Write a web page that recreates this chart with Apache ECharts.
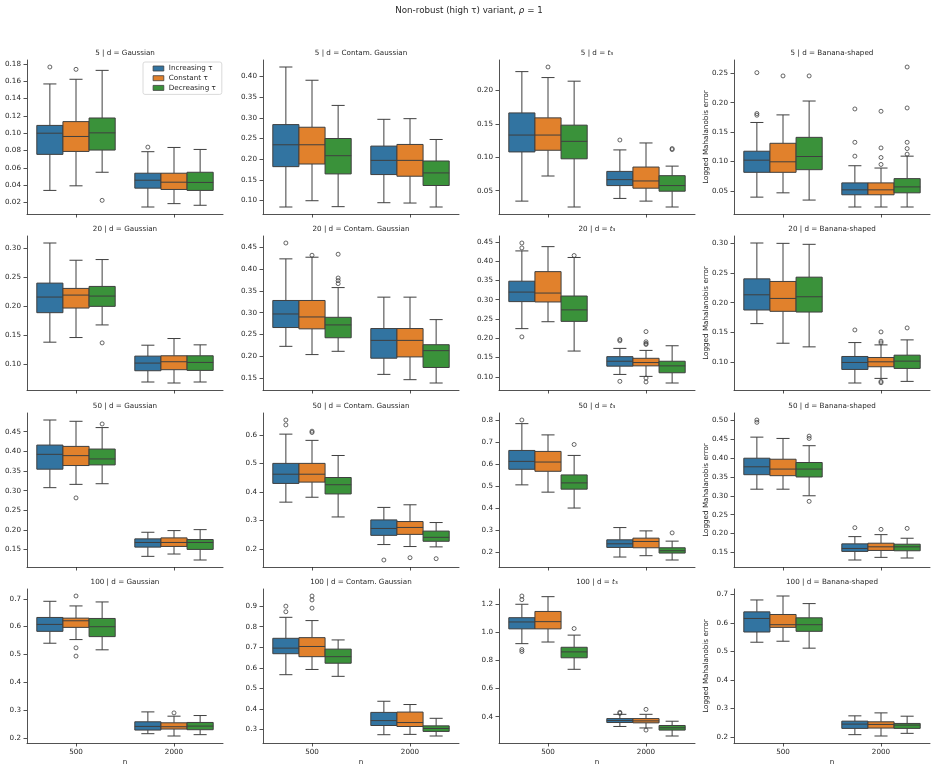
<!DOCTYPE html>
<html>
<head>
<meta charset="utf-8">
<script src="https://cdn.jsdelivr.net/npm/echarts@6/dist/echarts.min.js"></script>
<style>
  html, body { margin: 0; padding: 0; background: #fff; }
  #chart { width: 938px; height: 773px; }
</style>
</head>
<body>
<div id="chart"></div>
<script>
const dims = ['5', '20', '50', '100'];
const dists = ['Gaussian', 'Contam. Gaussian', 't3', 'Banana-shaped'];
const nValues = ['500', '2000'];
const hues = ['Increasing τ', 'Constant τ', 'Decreasing τ'];

// boxes: per hue -> [n=500, n=2000], each [low whisker, Q1, median, Q3, high whisker]
// outliers: per hue -> [n=500 list, n=2000 list]
const box5Gauss = [
  [[0.0338, 0.0755, 0.100, 0.109, 0.157], [0.0146, 0.0364, 0.0456, 0.0537, 0.0786]],
  [[0.0391, 0.0789, 0.0962, 0.1134, 0.1624], [0.0185, 0.0349, 0.0433, 0.0537, 0.0835]],
  [[0.0548, 0.0805, 0.1004, 0.1176, 0.1727], [0.0166, 0.0338, 0.043, 0.0548, 0.0812]]
];
const out5Gauss = [[[0.1766], [0.0839]], [[0.1739], []], [[0.0223], []]];
const ticks5Gauss = ['0.02', '0.04', '0.06', '0.08', '0.10', '0.12', '0.14', '0.16', '0.18'];

const box5Contam = [
  [[0.084, 0.1818, 0.2348, 0.2837, 0.4233], [0.0944, 0.1626, 0.197, 0.2316, 0.2965]],
  [[0.0992, 0.1882, 0.2348, 0.2773, 0.3912], [0.0936, 0.1586, 0.197, 0.2356, 0.2981]],
  [[0.0848, 0.1642, 0.2083, 0.25, 0.3302], [0.084, 0.1361, 0.1666, 0.1955, 0.2476]]
];
const out5Contam = [[[], []], [[], []], [[], []]];
const ticks5Contam = ['0.10', '0.15', '0.20', '0.25', '0.30', '0.35', '0.40'];

const box5T3 = [
  [[0.0345, 0.108, 0.1332, 0.1663, 0.228], [0.0385, 0.0577, 0.0666, 0.0789, 0.111]],
  [[0.072, 0.1105, 0.1332, 0.1589, 0.2191], [0.0345, 0.0538, 0.0646, 0.0854, 0.1214]],
  [[0.0257, 0.0977, 0.1238, 0.148, 0.2137], [0.0257, 0.0493, 0.0577, 0.0725, 0.0868]]
];
const out5T3 = [[[], [0.1258]], [[0.2349], []], [[], [0.113, 0.1115]]];
const ticks5T3 = ['0.05', '0.10', '0.15', '0.20'];

const box5Banana = [
  [[0.0393, 0.0815, 0.1022, 0.1174, 0.1663], [0.0225, 0.0433, 0.0517, 0.0635, 0.0927]],
  [[0.0466, 0.0815, 0.0994, 0.1309, 0.1792], [0.0225, 0.0433, 0.0517, 0.0635, 0.0888]],
  [[0.0343, 0.086, 0.1084, 0.141, 0.2028], [0.0225, 0.0466, 0.0567, 0.0708, 0.109]]
];
const out5Banana = [
  [[0.2511, 0.1815, 0.1787], [0.1893, 0.1326, 0.109]],
  [[0.2455], [0.1854, 0.123, 0.1067, 0.0949]],
  [[0.2455], [0.2607, 0.191, 0.1326, 0.1219, 0.1124]]
];
const ticks5Banana = ['0.05', '0.10', '0.15', '0.20', '0.25'];

const box20Gauss = [
  [[0.1383, 0.1891, 0.216, 0.24, 0.3091], [0.0697, 0.0891, 0.1023, 0.1143, 0.1331]],
  [[0.1463, 0.1971, 0.2194, 0.2309, 0.2794], [0.068, 0.0909, 0.1046, 0.1149, 0.1446]],
  [[0.168, 0.2, 0.2177, 0.2343, 0.2806], [0.0697, 0.0897, 0.1034, 0.1149, 0.1337]]
];
const out20Gauss = [[[], []], [[], []], [[0.1371], []]];
const ticks20Gauss = ['0.10', '0.15', '0.20', '0.25', '0.30'];

const box20Contam = [
  [[0.223, 0.266, 0.297, 0.3279, 0.4231], [0.1588, 0.1958, 0.2366, 0.2637, 0.3355]],
  [[0.2041, 0.263, 0.2902, 0.3279, 0.4269], [0.1467, 0.1988, 0.2366, 0.2637, 0.3355]],
  [[0.2116, 0.2426, 0.272, 0.2894, 0.3574], [0.1391, 0.1746, 0.2131, 0.2267, 0.2841]]
];
const out20Contam = [[[0.4594], []], [[0.4314], []], [[0.4337, 0.3793, 0.3733, 0.3665], []]];
const ticks20Contam = ['0.15', '0.20', '0.25', '0.30', '0.35', '0.40', '0.45'];

const box20T3 = [
  [[0.2249, 0.2949, 0.3196, 0.3478, 0.4263], [0.1062, 0.1276, 0.1404, 0.1523, 0.1737]],
  [[0.2428, 0.294, 0.3171, 0.3726, 0.4374], [0.1011, 0.1284, 0.137, 0.148, 0.1685]],
  [[0.1668, 0.2437, 0.2735, 0.3094, 0.4093], [0.084, 0.1105, 0.1284, 0.1404, 0.1805]]
];
const out20T3 = [
  [[0.4468, 0.434, 0.2035], [0.1967, 0.1933, 0.0883]],
  [[], [0.2172, 0.1907, 0.1865, 0.1839, 0.0968, 0.0866]],
  [[0.4144], []]
];
const ticks20T3 = ['0.10', '0.15', '0.20', '0.25', '0.30', '0.35', '0.40', '0.45'];

const box20Banana = [
  [[0.165, 0.1878, 0.2133, 0.24, 0.30], [0.0656, 0.0883, 0.10, 0.11, 0.1333]],
  [[0.1322, 0.1856, 0.2072, 0.2356, 0.2994], [0.0733, 0.0928, 0.1011, 0.1083, 0.1294]],
  [[0.1261, 0.1844, 0.21, 0.2428, 0.2978], [0.0683, 0.09, 0.1022, 0.1122, 0.1378]]
];
const out20Banana = [[[], [0.1544]], [[], [0.1511, 0.1356, 0.1328, 0.0683, 0.0661]], [[], [0.1578]]];
const ticks20Banana = ['0.10', '0.15', '0.20', '0.25', '0.30'];

const box50Gauss = [
  [[0.3076, 0.3546, 0.3924, 0.416, 0.4798], [0.1328, 0.1563, 0.1681, 0.1773, 0.1941]],
  [[0.316, 0.3639, 0.3891, 0.4126, 0.4765], [0.1387, 0.158, 0.1681, 0.1798, 0.1983]],
  [[0.3176, 0.3655, 0.3807, 0.4059, 0.4605], [0.1235, 0.1504, 0.1681, 0.1756, 0.2008]]
];
const out50Gauss = [[[], []], [[0.2815], []], [[0.4697], []]];
const ticks50Gauss = ['0.15', '0.20', '0.25', '0.30', '0.35', '0.40', '0.45'];

const box50Contam = [
  [[0.3644, 0.4299, 0.4621, 0.5, 0.6023], [0.2161, 0.2483, 0.2724, 0.3023, 0.346]],
  [[0.3816, 0.4345, 0.4621, 0.5, 0.5805], [0.2092, 0.2517, 0.2759, 0.2966, 0.3552]],
  [[0.3126, 0.3931, 0.4253, 0.4506, 0.5276], [0.208, 0.2276, 0.2414, 0.2632, 0.2931]]
];
const out50Contam = [[[0.6517, 0.6345], [0.1621]], [[0.6126, 0.608], [0.1701]], [[], [0.1667]]];
const ticks50Contam = ['0.2', '0.3', '0.4', '0.5', '0.6'];

const box50T3 = [
  [[0.506, 0.5766, 0.6126, 0.6622, 0.7838], [0.1787, 0.2222, 0.2387, 0.2568, 0.3123]],
  [[0.473, 0.5676, 0.6096, 0.6577, 0.7327], [0.1847, 0.2207, 0.2492, 0.2643, 0.2973]],
  [[0.4009, 0.4865, 0.515, 0.5511, 0.6396], [0.1652, 0.1967, 0.2072, 0.2207, 0.2508]]
];
const out50T3 = [[[0.8003], []], [[], []], [[0.6892], [0.2883]]];
const ticks50T3 = ['0.2', '0.3', '0.4', '0.5', '0.6', '0.7', '0.8'];

const box50Banana = [
  [[0.3176, 0.3561, 0.3771, 0.3999, 0.4559], [0.1295, 0.1523, 0.1601, 0.1724, 0.1916]],
  [[0.3176, 0.3535, 0.371, 0.3972, 0.4524], [0.1365, 0.1549, 0.1645, 0.1741, 0.1969]],
  [[0.3001, 0.35, 0.371, 0.3885, 0.4331], [0.1348, 0.154, 0.1645, 0.1715, 0.1873]]
];
const out50Banana = [[[0.5014, 0.4952], [0.2153]], [[], [0.2109]], [[0.4585, 0.4524, 0.2853], [0.2135]]];
const ticks50Banana = ['0.15', '0.20', '0.25', '0.30', '0.35', '0.40', '0.45', '0.50'];

const box100Gauss = [
  [[0.5401, 0.5829, 0.6078, 0.6328, 0.691], [0.2147, 0.2278, 0.2409, 0.2575, 0.2931]],
  [[0.5532, 0.5971, 0.6209, 0.6304, 0.6743], [0.2064, 0.2314, 0.2397, 0.2539, 0.2777]],
  [[0.5164, 0.5639, 0.5995, 0.6292, 0.6886], [0.2112, 0.229, 0.242, 0.2551, 0.28]]
];
const out100Gauss = [[[], []], [[0.71, 0.5235, 0.4938], [0.2895]], [[], []]];
const ticks100Gauss = ['0.2', '0.3', '0.4', '0.5', '0.6', '0.7'];

const box100Contam = [
  [[0.5665, 0.6686, 0.6957, 0.7435, 0.8456], [0.2746, 0.3193, 0.3432, 0.3831, 0.4373]],
  [[0.592, 0.6542, 0.7037, 0.7467, 0.8297], [0.2762, 0.3145, 0.3337, 0.3847, 0.4214]],
  [[0.5585, 0.6223, 0.6542, 0.6909, 0.7356], [0.2683, 0.2906, 0.3049, 0.3177, 0.3544]]
];
const out100Contam = [[[0.8998, 0.8727], []], [[0.9493, 0.9301, 0.8903], []], [[], []]];
const ticks100Contam = ['0.3', '0.4', '0.5', '0.6', '0.7', '0.8', '0.9'];

const box100T3 = [
  [[0.9184, 1.0233, 1.0723, 1.1026, 1.198], [0.3306, 0.3586, 0.3726, 0.3866, 0.4169]],
  [[0.93, 1.0233, 1.0746, 1.1469, 1.2519], [0.32, 0.3563, 0.3703, 0.3866, 0.4169]],
  [[0.7364, 0.8181, 0.86, 0.8927, 0.979], [0.263, 0.305, 0.3213, 0.3376, 0.3679]]
];
const out100T3 = [[[1.2566, 1.2309, 0.8764, 0.8624], [0.4309, 0.4239]], [[], [0.4519, 0.305]], [[1.0257], []]];
const ticks100T3 = ['0.4', '0.6', '0.8', '1.0', '1.2'];

const box100Banana = [
  [[0.5325, 0.5684, 0.616, 0.6392, 0.681], [0.2077, 0.2297, 0.2448, 0.2552, 0.2738]],
  [[0.536, 0.5847, 0.594, 0.6299, 0.6949], [0.203, 0.2309, 0.2436, 0.2529, 0.2842]],
  [[0.5116, 0.5708, 0.594, 0.6183, 0.6682], [0.2123, 0.2297, 0.2413, 0.2471, 0.2726]]
];
const out100Banana = [[[], []], [[], []], [[], []]];
const ticks100Banana = ['0.2', '0.3', '0.4', '0.5', '0.6', '0.7'];

const panelBoxes = [
  box5Gauss, box5Contam, box5T3, box5Banana,
  box20Gauss, box20Contam, box20T3, box20Banana,
  box50Gauss, box50Contam, box50T3, box50Banana,
  box100Gauss, box100Contam, box100T3, box100Banana
];
const panelOutliers = [
  out5Gauss, out5Contam, out5T3, out5Banana,
  out20Gauss, out20Contam, out20T3, out20Banana,
  out50Gauss, out50Contam, out50T3, out50Banana,
  out100Gauss, out100Contam, out100T3, out100Banana
];
const panelTicks = [
  ticks5Gauss, ticks5Contam, ticks5T3, ticks5Banana,
  ticks20Gauss, ticks20Contam, ticks20T3, ticks20Banana,
  ticks50Gauss, ticks50Contam, ticks50T3, ticks50Banana,
  ticks100Gauss, ticks100Contam, ticks100T3, ticks100Banana
];

const hueColors = ['#3274a1', '#e1812c', '#3a923a'];
const LINE = '#3f3f3f';
const AXIS = '#262626';
const FONT = 'DejaVu Sans';
const colLeft = [27, 263, 499, 734];
const rowTop = [60, 236, 413, 589];
const gridW = 196;
const gridH = 154;

// matplotlib-like autoscale: data range + 5% margin
function extentOf(p) {
  let lo = Infinity, hi = -Infinity;
  panelBoxes[p].forEach(h => h.forEach(b => { lo = Math.min(lo, b[0]); hi = Math.max(hi, b[4]); }));
  panelOutliers[p].forEach(h => h.forEach(list => list.forEach(v => { lo = Math.min(lo, v); hi = Math.max(hi, v); })));
  const pad = (hi - lo) * 0.05;
  return [lo - pad, hi + pad];
}

function boxItem(hue) {
  return function (params, api) {
    const k = api.value(0);
    const w = api.size([1, 0])[0] * 0.8 / 3;
    const cx = api.coord([k, api.value(3)])[0] + (hue - 1) * w;
    const y = [1, 2, 3, 4, 5].map(d => api.coord([k, api.value(d)])[1]);
    const ls = { stroke: LINE, lineWidth: 1 };
    return {
      type: 'group',
      children: [
        { type: 'line', shape: { x1: cx, y1: y[4], x2: cx, y2: y[3] }, style: ls },
        { type: 'line', shape: { x1: cx, y1: y[1], x2: cx, y2: y[0] }, style: ls },
        { type: 'line', shape: { x1: cx - w / 4, y1: y[4], x2: cx + w / 4, y2: y[4] }, style: ls },
        { type: 'line', shape: { x1: cx - w / 4, y1: y[0], x2: cx + w / 4, y2: y[0] }, style: ls },
        { type: 'rect', shape: { x: cx - w / 2, y: y[3], width: w, height: y[1] - y[3] },
          style: { fill: hueColors[hue], stroke: LINE, lineWidth: 1 } },
        { type: 'line', shape: { x1: cx - w / 2, y1: y[2], x2: cx + w / 2, y2: y[2] }, style: ls }
      ]
    };
  };
}

function outlierItem(hue) {
  return function (params, api) {
    const k = api.value(0);
    const w = api.size([1, 0])[0] * 0.8 / 3;
    const pt = api.coord([k, api.value(1)]);
    return {
      type: 'circle',
      shape: { cx: pt[0] + (hue - 1) * w, cy: pt[1], r: 2 },
      style: { fill: 'none', stroke: LINE, lineWidth: 0.8 }
    };
  };
}

const titleRich = {
  a: { fontSize: 7.2, fontFamily: FONT, fontWeight: 'normal', color: AXIS },
  i: { fontSize: 7.2, fontFamily: FONT, fontWeight: 'normal', fontStyle: 'italic', color: AXIS }
};

const grids = [], xAxes = [], yAxes = [], series = [];
const titles = [{
  text: '{a|Non-robust (high τ) variant, }{i|ρ}{a| = 1}',
  left: 469, top: 10.7, textAlign: 'center', textVerticalAlign: 'middle', padding: 0,
  textStyle: { fontWeight: 'normal', rich: {
    a: { fontSize: 8.7, fontFamily: FONT, fontWeight: 'normal', color: AXIS },
    i: { fontSize: 8.7, fontFamily: FONT, fontWeight: 'normal', fontStyle: 'italic', color: AXIS }
  } }
}];

for (let r = 0; r < 4; r++) {
  for (let c = 0; c < 4; c++) {
    const p = r * 4 + c;
    const ext = extentOf(p);
    const ticks = panelTicks[p];
    const tickVals = ticks.map(Number);
    const dec = ticks[0].split('.')[1].length;

    grids.push({ left: colLeft[c], top: rowTop[r], width: gridW, height: gridH, outerBoundsMode: 'none' });

    const distLabel = dists[c] === 't3' ? '{i|t}{a|₃}' : '{a|' + dists[c] + '}';
    titles.push({
      text: '{a|' + dims[r] + ' | d = }' + distLabel,
      left: colLeft[c] + gridW / 2, top: rowTop[r] - 7.3,
      textAlign: 'center', textVerticalAlign: 'middle', padding: 0,
      textStyle: { fontWeight: 'normal', rich: titleRich }
    });

    xAxes.push({
      gridIndex: p, type: 'category', data: nValues,
      axisLine: { show: true, lineStyle: { color: AXIS, width: 0.8 } },
      axisTick: { show: true, alignWithLabel: true, length: 3.5, lineStyle: { color: AXIS, width: 0.8 } },
      axisLabel: { show: r === 3, fontSize: 7.2, fontFamily: FONT, color: AXIS, margin: 6 },
      splitLine: { show: false },
      name: r === 3 ? 'n' : '', nameLocation: 'middle', nameGap: 16, nameMoveOverlap: false,
      nameTextStyle: { fontSize: 7.2, fontFamily: FONT, color: AXIS }
    });

    yAxes.push({
      gridIndex: p, type: 'value', min: ext[0], max: ext[1],
      axisLine: { show: true, lineStyle: { color: AXIS, width: 0.8 } },
      axisTick: { show: true, length: 3.5, lineStyle: { color: AXIS, width: 0.8 }, customValues: tickVals },
      axisLabel: { customValues: tickVals, formatter: v => Number(v).toFixed(dec),
        fontSize: 7.2, fontFamily: FONT, color: AXIS, margin: 6 },
      splitLine: { show: false },
      name: c === 3 ? 'Logged Mahalanobis error' : '', nameLocation: 'middle', nameGap: 24, nameMoveOverlap: false,
      nameTextStyle: { fontSize: 7.2, fontFamily: FONT, color: AXIS }
    });

    for (let h = 0; h < 3; h++) {
      series.push({
        type: 'custom', name: hues[h], xAxisIndex: p, yAxisIndex: p,
        itemStyle: { color: hueColors[h] },
        encode: { x: 0, y: [1, 2, 3, 4, 5] },
        data: panelBoxes[p][h].map((b, k) => [k].concat(b)),
        renderItem: boxItem(h), silent: true, animation: false, z: 2
      });
      const outs = [];
      panelOutliers[p][h].forEach((list, k) => list.forEach(v => outs.push([k, v])));
      series.push({
        type: 'custom', name: 'outliers-' + h, xAxisIndex: p, yAxisIndex: p,
        encode: { x: 0, y: 1 },
        data: outs, renderItem: outlierItem(h), silent: true, animation: false, z: 3
      });
    }
  }
}

const chart = echarts.init(document.getElementById('chart'));
chart.setOption({
  backgroundColor: '#ffffff',
  animation: false,
  title: titles,
  grid: grids,
  xAxis: xAxes,
  yAxis: yAxes,
  legend: {
    data: hues, orient: 'vertical', left: 143, top: 62,
    padding: [3, 6, 3, 9.7], itemWidth: 10.7, itemHeight: 5, itemGap: 2.7,
    icon: 'rect', backgroundColor: 'rgba(255,255,255,0.8)',
    borderColor: '#d0d0d0', borderWidth: 0.8, borderRadius: 2,
    itemStyle: { borderColor: LINE, borderWidth: 0.8 },
    textStyle: { fontSize: 7.2, fontFamily: FONT, color: AXIS },
    selectedMode: false
  },
  series: series
});
</script>
</body>
</html>
